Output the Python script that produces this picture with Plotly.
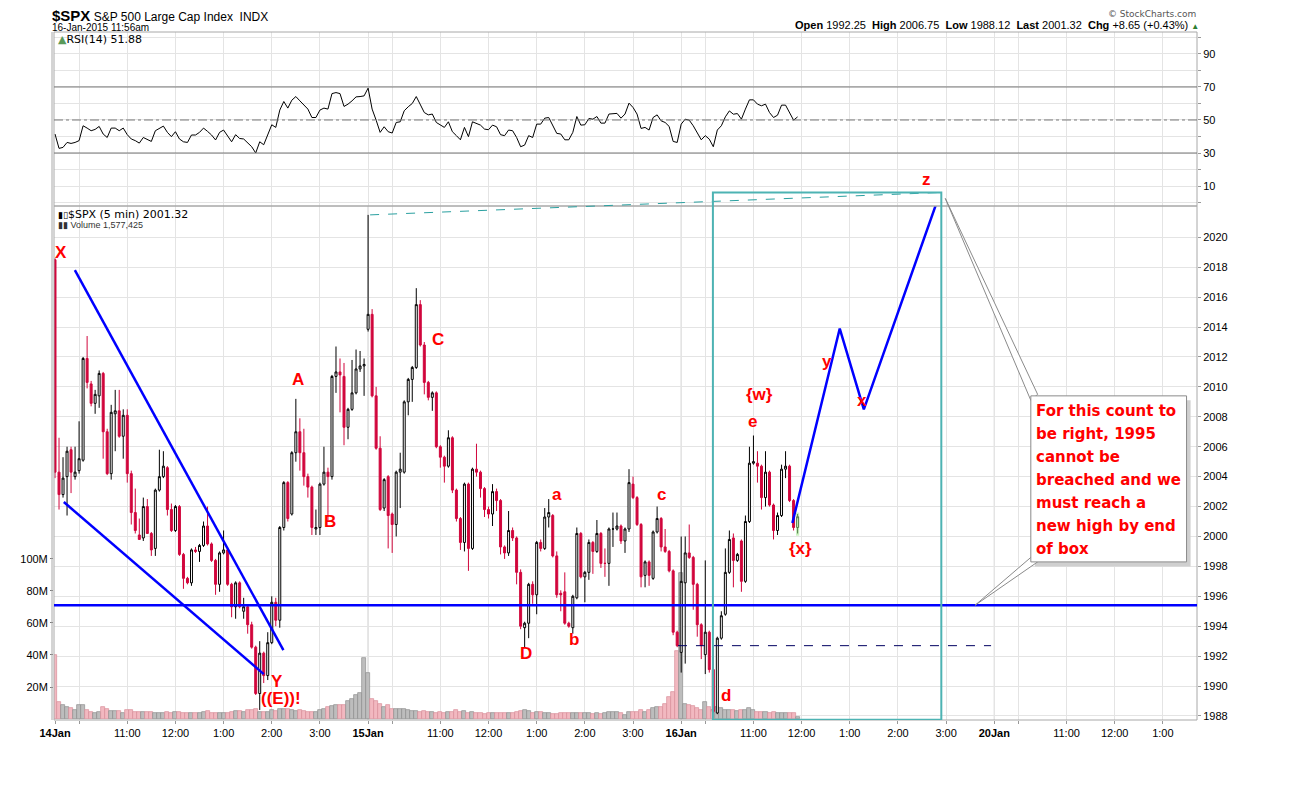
import plotly.graph_objects as go

# 5-minute bars, 14 Jan 9:30 .. 16 Jan 11:55 (bar number = position on the time axis)
open_ = [
    2018.5, 2004.3, 2002.8, 2004.0, 2005.8, 2004.0, 2004.4, 2005.1, 2011.9, 2010.2,
    2008.9, 2009.4, 2010.9, 2007.0, 2004.2, 2008.2, 2008.4, 2006.7, 2008.1, 2004.2,
    2001.6, 2000.1, 1999.9, 2002.0, 2000.2, 1999.2, 2003.1, 2004.0, 2004.6, 2001.8,
    2000.4, 2002.0, 1998.8, 1997.2, 1996.9, 1999.1, 1999.0, 1999.4, 2000.7, 1999.5,
    1998.4, 1996.8, 1998.9, 1999.1, 1996.8, 1995.3, 1996.9, 1995.0, 1995.3, 1994.1,
    1992.6, 1989.5, 1992.2, 1990.7, 1992.9, 1995.6, 1994.4, 2000.6, 2003.6, 2001.5,
    2005.6, 2007.0, 2005.6, 2004.0, 2003.3, 2000.5, 2000.6, 2003.5, 2004.3, 2004.0,
    2010.7, 2011.0, 2010.7, 2007.3, 2008.5, 2009.6, 2011.2, 2011.4, 2013.85, 2014.85,
    2009.4, 2005.9, 2001.9, 2004.0, 2001.5, 2000.8, 2004.3, 2004.3, 2009.0, 2010.5,
    2011.3, 2015.5, 2012.8, 2010.3, 2009.3, 2009.6, 2006.0, 2005.3, 2004.7, 2006.6,
    2003.1, 2001.2, 1999.6, 2003.5, 1999.2, 2004.5, 2004.3, 2003.2, 2001.8, 2001.5,
    2003.0, 2002.4, 1999.3, 1998.9, 2000.4, 1999.9, 1997.6, 1993.9, 1994.2, 1996.8,
    1996.1, 1999.6, 1999.2, 2001.3, 2001.4, 1998.7, 1996.2, 1996.3, 1994.2, 1993.9,
    1995.9, 2000.2, 1997.3, 1997.6, 1999.6, 1999.0, 2000.2, 1998.2, 1998.2, 2000.5,
    2000.5, 2000.7, 1999.7, 2000.5, 2003.5, 2002.6, 2000.8, 1997.4, 1998.3, 1997.2,
    2000.3, 2001.2, 1999.3, 1999.0, 1997.7, 1993.6, 1992.25, 1996.9, 1998.9, 1998.6,
    1996.8, 1994.1, 1992.1, 1993.6, 1991.1, 1988.2, 1993.2, 1994.8, 1997.6, 1999.9,
    1998.4, 1999.7, 1997.0, 2001.0, 2004.9, 2004.9, 2004.7, 2002.6, 2004.3, 2002.1,
    2000.4, 2001.4, 2004.5, 2004.7, 2002.4, 2000.6]
high = [
    2018.6, 2006.6, 2005.3, 2006.0, 2006.0, 2006.0, 2007.7, 2012.0, 2013.4, 2010.4,
    2009.8, 2011.1, 2011.0, 2007.2, 2008.8, 2009.8, 2009.8, 2008.5, 2008.5, 2004.4,
    2003.2, 2001.2, 2002.6, 2002.5, 2000.3, 2003.2, 2005.8, 2005.7, 2004.7, 2002.2,
    2002.1, 2002.1, 1998.9, 1997.3, 1999.2, 1999.3, 1999.5, 2001.0, 2002.0, 1999.6,
    1998.5, 1999.0, 2000.4, 1999.2, 1996.9, 1997.0, 1997.0, 1995.9, 1995.4, 1994.3,
    1992.7, 1993.0, 1992.3, 1993.6, 1996.0, 1995.9, 2000.7, 2003.7, 2003.7, 2005.7,
    2009.2, 2007.9, 2007.2, 2004.2, 2003.4, 2001.8, 2003.6, 2006.0, 2004.6, 2010.8,
    2012.7, 2011.9, 2011.6, 2008.6, 2011.8, 2012.5, 2012.4, 2011.9, 2021.5, 2015.2,
    2010.0, 2006.7, 2003.9, 2004.1, 2001.6, 2004.4, 2005.6, 2009.1, 2010.6, 2011.4,
    2016.6, 2015.8, 2013.0, 2010.4, 2009.7, 2009.7, 2006.1, 2005.4, 2007.1, 2006.7,
    2003.2, 2001.3, 2003.6, 2003.6, 2004.6, 2006.2, 2004.4, 2003.3, 2002.0, 2003.5,
    2003.2, 2002.5, 1999.4, 2001.7, 2000.6, 2000.0, 1997.8, 1994.3, 1996.9, 1997.0,
    1999.7, 1999.8, 2001.9, 2002.5, 2001.5, 1999.0, 1996.4, 1997.6, 1994.3, 1996.1,
    2000.6, 2000.3, 1997.7, 1999.8, 1999.7, 2001.1, 2000.3, 1999.2, 2000.6, 2001.6,
    2001.6, 2000.8, 2000.6, 2004.5, 2004.0, 2002.7, 2000.9, 1998.4, 1998.4, 2000.4,
    2002.0, 2001.3, 2000.5, 1999.1, 1997.8, 1993.7, 2000.0, 2000.0, 2000.8, 1998.7,
    1996.9, 1994.2, 1998.4, 1993.7, 1992.7, 1993.3, 1995.0, 1999.2, 2000.4, 2000.2,
    1998.9, 1999.8, 2001.4, 2006.0, 2006.75, 2005.7, 2004.8, 2005.7, 2004.4, 2002.2,
    2001.6, 2004.8, 2005.7, 2004.8, 2002.5, 2001.5]
low = [
    2003.9, 2001.8, 2002.6, 2001.4, 2002.9, 2003.8, 2004.2, 2005.0, 2009.9, 2008.7,
    2008.2, 2008.6, 2005.2, 2004.1, 2003.8, 2005.7, 2006.6, 2005.2, 2003.6, 2000.8,
    2000.2, 1999.8, 1999.7, 2000.2, 1998.7, 1998.7, 2003.0, 2003.9, 2001.4, 2000.3,
    2000.3, 1998.7, 1996.5, 1996.8, 1996.7, 1998.9, 1998.3, 1999.3, 1999.4, 1998.3,
    1996.1, 1996.3, 1998.8, 1996.7, 1994.6, 1994.5, 1995.2, 1994.5, 1993.5, 1992.5,
    1989.4, 1988.4, 1990.2, 1990.4, 1992.8, 1994.0, 1993.9, 2000.4, 2001.0, 2001.4,
    2005.0, 2004.4, 2003.4, 2002.6, 2000.1, 2000.1, 2000.1, 2003.4, 2001.1, 2003.8,
    2009.6, 2008.3, 2006.1, 2006.5, 2008.4, 2009.5, 2011.0, 2009.4, 2013.7, 2009.3,
    2005.8, 2001.7, 2001.7, 1999.2, 1998.9, 2000.0, 2001.9, 2004.2, 2008.1, 2009.0,
    2011.2, 2012.7, 2009.5, 2009.1, 2008.4, 2005.9, 2004.6, 2003.6, 2004.6, 2002.9,
    2001.0, 1999.1, 1999.0, 1997.7, 1999.1, 2004.0, 2002.6, 2001.3, 2001.2, 2000.7,
    2001.7, 1998.8, 1998.5, 1998.7, 1999.7, 1996.8, 1993.8, 1992.6, 1993.2, 1995.5,
    1994.8, 1999.0, 1999.1, 2000.6, 1998.6, 1995.9, 1995.0, 1994.1, 1993.9, 1993.5,
    1995.8, 1997.2, 1995.6, 1997.1, 1997.5, 1998.9, 1997.9, 1997.3, 1996.7, 1999.3,
    2000.4, 1999.5, 1998.9, 2000.3, 2002.5, 2000.7, 1996.6, 1996.6, 1996.7, 1997.1,
    2000.2, 1999.0, 1998.9, 1997.6, 1993.4, 1992.6, 1990.9, 1991.5, 1998.5, 1995.1,
    1993.3, 1991.8, 1990.8, 1990.9, 1988.2, 1988.12, 1993.1, 1994.7, 1997.5, 1996.6,
    1998.3, 1996.3, 1996.9, 2000.9, 2004.8, 2003.6, 2001.8, 2002.0, 2002.0, 1999.8,
    2000.1, 2001.3, 2003.9, 2002.3, 2000.4, 2000.2]
close = [
    2004.3, 2002.8, 2003.9, 2005.7, 2004.3, 2004.3, 2005.2, 2011.9, 2010.3, 2008.9,
    2009.5, 2010.9, 2007.0, 2004.2, 2008.3, 2008.4, 2006.7, 2008.1, 2004.2, 2001.6,
    2000.4, 1999.8, 2002.0, 2000.2, 1999.1, 2003.1, 2004.0, 2004.7, 2001.8, 2000.4,
    2002.0, 1998.8, 1997.2, 1996.9, 1999.1, 1999.0, 1999.4, 2000.7, 1999.5, 1998.4,
    1996.8, 1998.9, 1999.1, 1996.8, 1995.3, 1996.9, 1995.3, 1995.3, 1994.1, 1992.6,
    1989.5, 1992.2, 1990.7, 1992.9, 1995.6, 1994.4, 2000.6, 2003.6, 2001.2, 2005.6,
    2007.0, 2005.6, 2004.0, 2003.3, 2000.6, 2000.6, 2003.5, 2004.3, 2004.0, 2010.7,
    2011.0, 2010.8, 2007.3, 2008.5, 2009.6, 2011.2, 2011.4, 2011.5, 2014.85, 2009.4,
    2005.9, 2001.8, 2003.8, 2001.4, 2000.8, 2004.3, 2004.5, 2009.0, 2010.5, 2011.3,
    2015.5, 2012.8, 2010.3, 2009.3, 2009.6, 2006.0, 2005.3, 2004.7, 2006.6, 2003.1,
    2001.2, 1999.6, 2003.5, 1999.2, 2004.5, 2004.3, 2003.2, 2001.8, 2001.5, 2003.0,
    2002.4, 1999.3, 1998.9, 2000.4, 1999.9, 1997.6, 1994.0, 1994.2, 1996.8, 1996.1,
    1999.6, 1999.2, 2001.3, 2001.6, 1998.7, 1996.1, 1996.1, 1994.2, 1994.0, 1996.0,
    2000.2, 1997.3, 1997.6, 1999.6, 1999.0, 2000.2, 1998.2, 1998.2, 2000.5, 2000.5,
    2000.7, 1999.7, 2000.5, 2003.6, 2002.6, 2000.8, 1997.3, 1998.3, 1997.4, 2000.3,
    2001.2, 1999.3, 1999.0, 1997.7, 1993.6, 1992.7, 1997.0, 1998.9, 1998.6, 1996.8,
    1994.1, 1992.7, 1993.6, 1991.1, 1988.3, 1993.2, 1994.7, 1997.6, 1999.8, 1998.4,
    1998.8, 1997.0, 2001.0, 2004.9, 2005.0, 2004.7, 2002.6, 2004.3, 2002.1, 2000.4,
    2001.4, 2004.5, 2004.7, 2002.4, 2000.6, 2001.32]
volume_m = [
    40.0, 10.8, 8.8, 7.7, 6.8, 5.6, 8.8, 8.8, 5.6, 4.6,
    4.0, 4.6, 7.3, 6.3, 5.2, 5.2, 5.2, 3.8, 5.6, 5.6,
    4.6, 4.6, 4.2, 4.2, 4.2, 4.0, 4.0, 4.0, 4.2, 4.0,
    4.2, 4.2, 4.0, 3.5, 3.8, 3.8, 4.0, 4.4, 5.0, 3.6,
    3.6, 4.0, 3.6, 3.8, 4.4, 5.0, 5.0, 4.6, 5.6, 5.6,
    6.2, 4.6, 4.4, 4.6, 5.4, 5.0, 6.4, 6.0, 6.4, 5.6,
    5.0, 5.4, 5.2, 4.4, 4.4, 4.6, 5.4, 6.2, 7.8, 8.2,
    9.0, 8.8, 8.8, 11.5, 12.5, 15.0, 16.3, 38.0, 28.5, 12.5,
    11.0, 9.5, 7.7, 8.5, 6.5, 6.5, 6.0, 6.0, 5.5, 5.0,
    5.0, 4.6, 5.0, 4.4, 4.4, 3.8, 4.6, 3.5, 4.6, 4.6,
    5.6, 4.6, 5.2, 3.8, 4.6, 3.5, 3.5, 3.1, 3.5, 3.8,
    3.5, 3.5, 3.8, 3.5, 3.8, 4.6, 5.0, 5.6, 5.2, 3.5,
    4.6, 4.6, 3.5, 3.5, 3.1, 3.1, 3.5, 4.0, 3.5, 3.5,
    4.0, 3.5, 3.5, 4.0, 2.9, 3.5, 2.9, 3.5, 4.6, 4.6,
    4.6, 3.5, 2.5, 4.6, 4.6, 4.6, 5.6, 4.6, 5.6, 6.6,
    7.7, 7.7, 9.4, 14.0, 17.0, 42.7, 91.0, 9.4, 8.8, 8.1,
    6.9, 5.6, 10.7, 7.5, 5.6, 7.5, 6.6, 5.9, 5.6, 5.6,
    5.2, 5.6, 5.6, 6.6, 5.6, 4.6, 4.6, 4.2, 4.0, 4.2,
    3.5, 4.0, 3.5, 4.0, 3.5, 1.5]
rsi14 = [
    41.5, 32.8, 33.4, 36.4, 35.8, 36.4, 37.5, 46.5, 45.1, 43.5,
    44.3, 46.1, 41.5, 39.4, 45.1, 45.1, 43.5, 45.1, 41.1, 38.5,
    37.5, 36.0, 39.4, 38.0, 37.0, 43.5, 45.1, 46.3, 42.5, 39.9,
    42.9, 38.5, 36.8, 36.4, 40.9, 40.9, 42.5, 45.1, 43.1, 40.9,
    37.9, 42.5, 43.9, 40.5, 36.8, 41.1, 38.8, 38.5, 36.4, 33.8,
    30.0, 36.8, 35.0, 41.5, 47.1, 45.5, 56.0, 61.2, 57.2, 62.0,
    64.2, 61.6, 59.0, 56.6, 51.5, 51.5, 56.0, 57.2, 56.6, 66.0,
    66.6, 66.0, 58.2, 59.6, 61.6, 64.0, 64.2, 64.6, 69.3, 56.6,
    49.9, 42.5, 45.9, 42.9, 42.1, 48.5, 48.9, 55.6, 58.0, 60.0,
    64.2, 59.6, 54.5, 53.1, 53.6, 48.5, 47.1, 45.5, 48.9, 42.9,
    40.5, 38.0, 45.5, 39.9, 48.9, 48.1, 46.9, 44.5, 44.1, 46.9,
    45.9, 41.1, 40.5, 43.9, 43.5, 39.4, 33.8, 34.8, 40.5, 39.4,
    47.5, 47.5, 51.1, 51.5, 46.9, 41.9, 41.5, 38.0, 38.0, 42.5,
    52.1, 46.9, 47.1, 50.9, 50.5, 52.1, 48.1, 48.1, 53.6, 54.0,
    54.0, 51.1, 53.6, 60.2, 57.6, 53.6, 44.9, 45.5, 43.9, 51.5,
    53.1, 49.5, 48.5, 46.1, 37.0, 36.4, 47.5, 50.5, 49.9, 46.5,
    42.5, 38.0, 40.5, 38.4, 33.8, 43.9, 46.5, 51.9, 55.5, 53.5,
    53.9, 50.5, 56.6, 62.2, 62.2, 59.6, 58.6, 59.6, 54.5, 51.5,
    52.9, 59.0, 59.0, 54.5, 49.9, 51.88]

# time axis: 78 bars per session, 20 Jan continues after 16 Jan
tick_pos = [0, 6, 18, 30, 42, 54, 66, 78, 84, 96, 108, 120, 132, 144,
            156, 162, 174, 186, 198, 210, 222, 234, 240, 252, 264, 276]
tick_text = ['<b>14Jan</b>', '', '11:00', '12:00', '1:00', '2:00', '3:00',
             '<b>15Jan</b>', '', '11:00', '12:00', '1:00', '2:00', '3:00',
             '<b>16Jan</b>', '', '11:00', '12:00', '1:00', '2:00', '3:00',
             '<b>20Jan</b>', '', '11:00', '12:00', '1:00']
price_ticks = list(range(1988, 2021, 2))
vol_ticks = [20, 40, 60, 80, 100]
rsi_ticks = list(range(0, 101, 10))

# hand-drawn wave count (bar, price)
wave_labels = [('X', 1.5, 2019.0), ('A', 60.6, 2010.5), ('B', 68.6, 2001.0),
               ('C', 95.3, 2013.2), ('Y', 55.4, 1990.3), ('((E))!', 56.3, 1989.2),
               ('D', 117.3, 1992.2), ('a', 125.0, 2002.8), ('b', 129.2, 1993.1),
               ('c', 151.2, 2002.8), ('d', 167.1, 1989.4), ('e', 173.8, 2007.7),
               ('{w}', 175.5, 2009.5), ('{x}', 185.6, 1999.2), ('y', 192.3, 2011.7),
               ('x', 201.0, 2009.1)]
zig_x = [183.7, 195.5, 201.5, 220.8]
zig_y = [2000.9, 2013.9, 2008.5, 2023.2]
support = 1995.4
note_lines = ['For this count to', 'be right, 1995', 'cannot be',
              'breached and we', 'must reach a', 'new high by end', 'of box']

RED = '#d1063c'
BLUE = '#0000ff'
TEAL = '#4db3b3'
GRID = '#e4e4e4'
FONT = 'Liberation Sans, Arial, sans-serif'

# the page puts the figure 8px in from the window corner
PAGE = 8


def px(x):
    return (x - 47) / 1150


def py(y):
    return (720 - y) / 688


price_top = py(189)
rsi_bottom = py(206)
bars = list(range(len(close)))
up = [c >= o for o, c in zip(open_, close)]
vol_fill = ['#bdbdbd' if u else '#f2b8c0' for u in up]
vol_edge = ['#8c8c8c' if u else '#d98c98' for u in up]

fig = go.Figure()
fig.add_trace(go.Bar(x=bars, y=volume_m, xaxis='x', yaxis='y', width=1.0,
                     marker=dict(color=vol_fill, line=dict(color=vol_edge, width=0.7)),
                     hoverinfo='skip', showlegend=False))
fig.add_trace(go.Candlestick(x=bars, open=open_, high=high, low=low, close=close,
                             xaxis='x', yaxis='y2', whiskerwidth=0,
                             increasing=dict(line=dict(color='black', width=1), fillcolor='white'),
                             decreasing=dict(line=dict(color=RED, width=1), fillcolor=RED),
                             hoverinfo='skip', showlegend=False))
fig.add_trace(go.Scatter(x=zig_x, y=zig_y, mode='lines', xaxis='x', yaxis='y2',
                         line=dict(color=BLUE, width=2.5), hoverinfo='skip', showlegend=False))
fig.add_trace(go.Scatter(x=bars, y=rsi14, mode='lines', xaxis='x2', yaxis='y3',
                         line=dict(color='black', width=1), hoverinfo='skip', showlegend=False))

shapes = []
# panel frames and day separators
shapes.append(dict(type='rect', xref='paper', yref='paper', x0=0, x1=1, y0=rsi_bottom, y1=1,
                   line=dict(color='#a8a8a8', width=1)))
shapes.append(dict(type='rect', xref='paper', yref='paper', x0=0, x1=1, y0=0, y1=rsi_bottom,
                   line=dict(color='#a8a8a8', width=1)))
shapes.append(dict(type='line', xref='paper', yref='paper', x0=px(45), x1=px(45), y0=0, y1=1,
                   line=dict(color='#a8a8a8', width=1)))
for d in [78, 156, 234]:
    shapes.append(dict(type='line', xref='x', yref='paper', x0=d, x1=d, y0=0, y1=1,
                       line=dict(color='#c4c4c4', width=1), layer='below'))
# RSI reference lines
for lvl, dash in [(70, 'solid'), (30, 'solid'), (50, 'dashdot')]:
    shapes.append(dict(type='line', xref='paper', yref='y3', x0=0, x1=1, y0=lvl, y1=lvl,
                       line=dict(color='#777777', width=1, dash=dash)))
# drawn trend lines and levels
shapes.append(dict(type='line', xref='x', yref='y2', x0=4.95, y0=2017.8, x1=56.9, y1=1992.4,
                   line=dict(color=BLUE, width=2.5)))
shapes.append(dict(type='line', xref='x', yref='y2', x0=2.2, y0=2002.3, x1=52.0, y1=1990.8,
                   line=dict(color=BLUE, width=2.5)))
shapes.append(dict(type='line', xref='paper', yref='y2', x0=0, x1=1, y0=support, y1=support,
                   line=dict(color=BLUE, width=2.5)))
shapes.append(dict(type='line', xref='x', yref='y2', x0=155.2, x1=233.2, y0=1992.7, y1=1992.7,
                   line=dict(color='#000060', width=1, dash='dash')))
shapes.append(dict(type='line', xref='x', yref='y2', x0=78.5, y0=2021.5, x1=220.8, y1=2023.0,
                   line=dict(color='#2aa0a0', width=1, dash='dash')))
shapes.append(dict(type='rect', xref='x', yref='y2', x0=163.9, x1=220.8, y0=1987.75, y1=2023.0,
                   line=dict(color=TEAL, width=2)))
shapes.append(dict(type='rect', xref='x', yref='y2', x0=184.6, x1=185.4, y0=2000.05, y1=2001.6,
                   fillcolor='#9ee68a', opacity=0.55, line=dict(width=0)))
# callout with its two pointers
shapes.append(dict(type='rect', xref='x', yref='y2', x0=244.1, x1=282.9, y0=1998.0, y1=2009.1,
                   fillcolor='#cfcfcf', line=dict(width=0)))
shapes.append(dict(type='path', xref='x', yref='y2',
                   path='M 243.1,2009.1 L 221.8,2022.6 L 244.8,2009.5 Z',
                   fillcolor='white', line=dict(color='#8a8a8a', width=1)))
shapes.append(dict(type='path', xref='x', yref='y2',
                   path='M 243.1,1998.6 L 229.2,1995.4 L 244.8,1998.3 Z',
                   fillcolor='white', line=dict(color='#8a8a8a', width=1)))
shapes.append(dict(type='rect', xref='x', yref='y2', x0=243.1, x1=281.9, y0=1998.3, y1=2009.4,
                   fillcolor='white', line=dict(color='#8a8a8a', width=1)))

ann = []
for txt, bx, pr in wave_labels:
    ann.append(dict(x=bx, y=pr, xref='x', yref='y2', text='<b>%s</b>' % txt, showarrow=False,
                    font=dict(family=FONT, size=17, color='#ff0000')))
ann.append(dict(x=217.0, y=2023.1, xref='x', yref='y2', text='<b>z</b>', showarrow=False,
                yanchor='bottom', font=dict(family=FONT, size=17, color='#ff0000')))
for i, line in enumerate(note_lines):
    ann.append(dict(x=px(1033), y=py(411 + 23 * i), xref='paper', yref='paper', text='<b>%s</b>' % line,
                    showarrow=False, xanchor='left', yanchor='middle',
                    font=dict(family='DejaVu Sans, Verdana, sans-serif', size=15, color='#ff0000')))
# header and panel captions
ann.append(dict(x=px(44), y=py(15), xref='paper', yref='paper', showarrow=False,
                xanchor='left', yanchor='middle', borderpad=0,
                text='<b>$SPX</b><span style="font-size:12px"> S&amp;P 500 Large Cap Index  INDX</span>',
                font=dict(family=FONT, size=15, color='black')))
ann.append(dict(x=px(44), y=py(27), xref='paper', yref='paper', showarrow=False,
                xanchor='left', yanchor='middle', borderpad=0, text='16-Jan-2015 11:56am',
                font=dict(family=FONT, size=10, color='black')))
ann.append(dict(x=px(1197), y=py(14), xref='paper', yref='paper', showarrow=False,
                xanchor='right', yanchor='middle', borderpad=0, text='© StockCharts.com',
                font=dict(family='DejaVu Sans, sans-serif', size=9, color='#555555')))
ann.append(dict(x=px(1200), y=py(25), xref='paper', yref='paper', showarrow=False,
                xanchor='right', yanchor='middle', borderpad=0,
                text='<b>Open</b> 1992.25  <b>High</b> 2006.75  <b>Low</b> 1988.12  '
                     '<b>Last</b> 2001.32  <b>Chg</b> +8.65 (+0.43%) '
                     '<span style="color:#2e7d32;font-size:8px">▲</span>',
                font=dict(family=FONT, size=11, color='black')))
ann.append(dict(x=px(49), y=py(39), xref='paper', yref='paper', showarrow=False,
                xanchor='left', yanchor='middle',
                text='<span style="color:#5a9a5a">▲</span>RSI(14) 51.88',
                font=dict(family='DejaVu Sans, sans-serif', size=11, color='black')))
ann.append(dict(x=px(49), y=py(214), xref='paper', yref='paper', showarrow=False,
                xanchor='left', yanchor='middle',
                text='<span style="font-size:9px">▮▯</span>$SPX (5 min) 2001.32',
                font=dict(family='DejaVu Sans, sans-serif', size=11, color='black')))
ann.append(dict(x=px(49), y=py(225), xref='paper', yref='paper', showarrow=False,
                xanchor='left', yanchor='middle', text='▮▮ Volume 1,577,425',
                font=dict(family=FONT, size=9, color='#333333')))

fig.update_layout(
    width=1302 - 2 * PAGE, height=808 - 2 * PAGE,
    margin=dict(l=47 - PAGE, r=105 - PAGE, t=32 - PAGE, b=88 - PAGE),
    paper_bgcolor='white', plot_bgcolor='white',
    font=dict(family=FONT, size=11, color='black'),
    bargap=0, hovermode=False, showlegend=False,
    xaxis=dict(domain=[0, 1], anchor='y', range=[-0.25, 284.5], tickmode='array',
               tickvals=tick_pos, ticktext=tick_text, showgrid=True, gridcolor=GRID,
               ticks='outside', ticklen=3, tickcolor='#999999', zeroline=False,
               showline=False, rangeslider=dict(visible=False),
               tickfont=dict(family=FONT, size=11, color='black')),
    xaxis2=dict(domain=[0, 1], anchor='y3', matches='x', tickmode='array', tickvals=tick_pos,
                showticklabels=False, showgrid=True, gridcolor=GRID, zeroline=False, ticks=''),
    yaxis=dict(domain=[0, price_top], anchor='x', range=[-0.6, 331], side='left',
               tickmode='array', tickvals=vol_ticks, ticktext=['%dM' % v for v in vol_ticks],
               showgrid=False, zeroline=False, ticks='outside', ticklen=3, tickcolor='#777777',
               tickfont=dict(family=FONT, size=11, color='black')),
    yaxis2=dict(overlaying='y', anchor='x', side='right', range=[1987.73, 2023.23],
                tickmode='array', tickvals=price_ticks, showgrid=True, gridcolor=GRID,
                zeroline=False, ticks='outside', ticklen=3, tickcolor='#999999',
                tickfont=dict(family=FONT, size=11, color='black')),
    yaxis3=dict(domain=[rsi_bottom, 1], anchor='x2', side='right', range=[-2.1, 103.3],
                tickmode='array', tickvals=rsi_ticks,
                ticktext=[str(v) if v in (10, 30, 50, 70, 90) else '' for v in rsi_ticks],
                showgrid=True, gridcolor=GRID, zeroline=False, ticks='outside', ticklen=3,
                tickcolor='#999999', tickfont=dict(family=FONT, size=11, color='black')),
    shapes=shapes,
    annotations=ann,
)

fig.write_html("out.html")
